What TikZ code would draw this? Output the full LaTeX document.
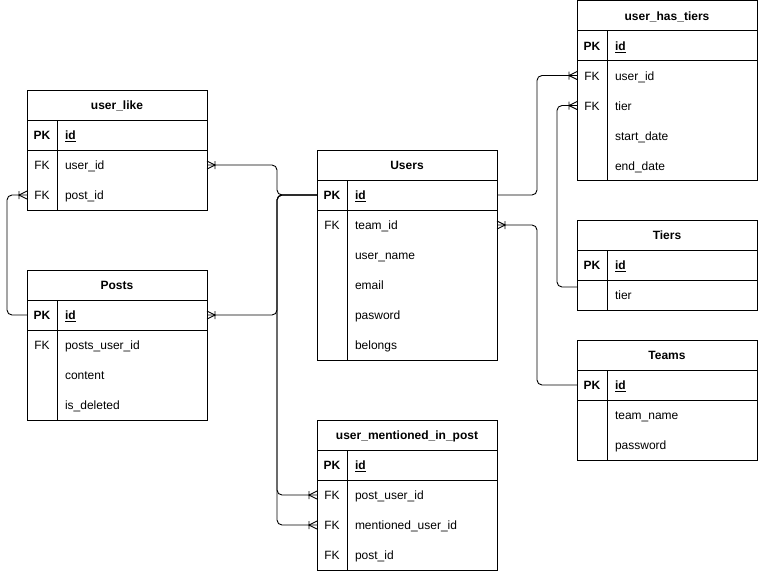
\documentclass[tikz,border=0pt]{standalone}
\usepackage{fontspec}
\setmainfont{Liberation Sans}
\usetikzlibrary{positioning}
\usetikzlibrary{decorations.markings}

\tikzset{
  tblhead/.style={minimum width=180pt,minimum height=30pt,inner sep=0pt,outer sep=0pt,text height=10pt,text depth=0.2pt,font=\fontsize{12}{14}\selectfont\bfseries},
  keycell/.style={minimum width=30pt,minimum height=30pt,inner sep=0pt,outer sep=0pt,text height=10pt,text depth=0.2pt},
  namecell/.style={minimum height=30pt,text width=134pt,inner xsep=8pt,inner ysep=0pt,outer sep=0pt,text height=10pt,text depth=0.2pt,align=left},
  rel/.style={rounded corners=5pt},
  many end/.style={postaction={decorate,decoration={markings,mark=at position 1 with {\draw[sharp corners] (0pt,4pt) -- (-8pt,0pt) -- (0pt,-4pt) (-8pt,4pt) -- (-8pt,-4pt);}}}}
}

\begin{document}
\begin{tikzpicture}[x=1pt,y=-1pt,line width=0.9pt,font=\fontsize{12}{14}\selectfont]
\useasboundingbox (0,0) rectangle (758,571);
% user_like
\node[tblhead] (like) at (117,105) {user\_like};
\node[keycell,anchor=north west] (like-pk) at (like.south west) {\textbf{PK}};
\node[namecell,right=0pt of like-pk] (like-id) {\textbf{\underline{id}}};
\node[keycell,below=0pt of like-pk] (like-fk1) {FK};
\node[namecell,right=0pt of like-fk1] (like-userid) {user\_id};
\node[keycell,below=0pt of like-fk1] (like-fk2) {FK};
\node[namecell,right=0pt of like-fk2] (like-postid) {post\_id};
\draw (like.north west) rectangle (like-postid.south east);
\draw (like.south west) -- (like.south east);
\draw (like-pk.south west) -- (like-id.south east);
\draw (like-pk.north east) -- (like-fk2.south east);
% Posts
\node[tblhead] (posts) at (117,285) {Posts};
\node[keycell,anchor=north west] (posts-pk) at (posts.south west) {\textbf{PK}};
\node[namecell,right=0pt of posts-pk] (posts-id) {\textbf{\underline{id}}};
\node[keycell,below=0pt of posts-pk] (posts-fk1) {FK};
\node[namecell,right=0pt of posts-fk1] (posts-userid) {posts\_user\_id};
\node[keycell,below=0pt of posts-fk1] (posts-k3) {};
\node[namecell,right=0pt of posts-k3] (posts-content) {content};
\node[keycell,below=0pt of posts-k3] (posts-k4) {};
\node[namecell,right=0pt of posts-k4] (posts-deleted) {is\_deleted};
\draw (posts.north west) rectangle (posts-deleted.south east);
\draw (posts.south west) -- (posts.south east);
\draw (posts-pk.south west) -- (posts-id.south east);
\draw (posts-pk.north east) -- (posts-k4.south east);
% Users
\node[tblhead] (users) at (407,165) {Users};
\node[keycell,anchor=north west] (users-pk) at (users.south west) {\textbf{PK}};
\node[namecell,right=0pt of users-pk] (users-id) {\textbf{\underline{id}}};
\node[keycell,below=0pt of users-pk] (users-fk1) {FK};
\node[namecell,right=0pt of users-fk1] (users-teamid) {team\_id};
\node[keycell,below=0pt of users-fk1] (users-k3) {};
\node[namecell,right=0pt of users-k3] (users-name) {user\_name};
\node[keycell,below=0pt of users-k3] (users-k4) {};
\node[namecell,right=0pt of users-k4] (users-email) {email};
\node[keycell,below=0pt of users-k4] (users-k5) {};
\node[namecell,right=0pt of users-k5] (users-pasword) {pasword};
\node[keycell,below=0pt of users-k5] (users-k6) {};
\node[namecell,right=0pt of users-k6] (users-belongs) {belongs};
\draw (users.north west) rectangle (users-belongs.south east);
\draw (users.south west) -- (users.south east);
\draw (users-pk.south west) -- (users-id.south east);
\draw (users-pk.north east) -- (users-k6.south east);
% user_mentioned_in_post
\node[tblhead] (ump) at (407,435) {user\_mentioned\_in\_post};
\node[keycell,anchor=north west] (ump-pk) at (ump.south west) {\textbf{PK}};
\node[namecell,right=0pt of ump-pk] (ump-id) {\textbf{\underline{id}}};
\node[keycell,below=0pt of ump-pk] (ump-fk1) {FK};
\node[namecell,right=0pt of ump-fk1] (ump-postuser) {post\_user\_id};
\node[keycell,below=0pt of ump-fk1] (ump-fk2) {FK};
\node[namecell,right=0pt of ump-fk2] (ump-mentioned) {mentioned\_user\_id};
\node[keycell,below=0pt of ump-fk2] (ump-fk3) {FK};
\node[namecell,right=0pt of ump-fk3] (ump-postid) {post\_id};
\draw (ump.north west) rectangle (ump-postid.south east);
\draw (ump.south west) -- (ump.south east);
\draw (ump-pk.south west) -- (ump-id.south east);
\draw (ump-pk.north east) -- (ump-fk3.south east);
% user_has_tiers
\node[tblhead] (uht) at (667,15.5) {user\_has\_tiers};
\node[keycell,anchor=north west] (uht-pk) at (uht.south west) {\textbf{PK}};
\node[namecell,right=0pt of uht-pk] (uht-id) {\textbf{\underline{id}}};
\node[keycell,below=0pt of uht-pk] (uht-fk1) {FK};
\node[namecell,right=0pt of uht-fk1] (uht-userid) {user\_id};
\node[keycell,below=0pt of uht-fk1] (uht-fk2) {FK};
\node[namecell,right=0pt of uht-fk2] (uht-tier) {tier};
\node[keycell,below=0pt of uht-fk2] (uht-k4) {};
\node[namecell,right=0pt of uht-k4] (uht-start) {start\_date};
\node[keycell,below=0pt of uht-k4] (uht-k5) {};
\node[namecell,right=0pt of uht-k5] (uht-end) {end\_date};
\draw (uht.north west) rectangle (uht-end.south east);
\draw (uht.south west) -- (uht.south east);
\draw (uht-pk.south west) -- (uht-id.south east);
\draw (uht-pk.north east) -- (uht-k5.south east);
% Tiers
\node[tblhead] (tiers) at (667,235) {Tiers};
\node[keycell,anchor=north west] (tiers-pk) at (tiers.south west) {\textbf{PK}};
\node[namecell,right=0pt of tiers-pk] (tiers-id) {\textbf{\underline{id}}};
\node[keycell,below=0pt of tiers-pk] (tiers-k2) {};
\node[namecell,right=0pt of tiers-k2] (tiers-tier) {tier};
\draw (tiers.north west) rectangle (tiers-tier.south east);
\draw (tiers.south west) -- (tiers.south east);
\draw (tiers-pk.south west) -- (tiers-id.south east);
\draw (tiers-pk.north east) -- (tiers-k2.south east);
% Teams
\node[tblhead] (teams) at (667,355) {Teams};
\node[keycell,anchor=north west] (teams-pk) at (teams.south west) {\textbf{PK}};
\node[namecell,right=0pt of teams-pk] (teams-id) {\textbf{\underline{id}}};
\node[keycell,below=0pt of teams-pk] (teams-k2) {};
\node[namecell,right=0pt of teams-k2] (teams-name) {team\_name};
\node[keycell,below=0pt of teams-k2] (teams-k3) {};
\node[namecell,right=0pt of teams-k3] (teams-password) {password};
\draw (teams.north west) rectangle (teams-password.south east);
\draw (teams.south west) -- (teams.south east);
\draw (teams-pk.south west) -- (teams-id.south east);
\draw (teams-pk.north east) -- (teams-k3.south east);
% relations
\draw[rel,many end] (users-pk.west) -- ++(-40,0) |- (like-userid.east);
\draw[rel,many end] (users-pk.west) -- ++(-40,0) |- (posts-id.east);
\draw[rel,many end] (users-pk.west) -- ++(-40,0) |- (ump-fk1.west);
\draw[rel,many end] (users-pk.west) -- ++(-40,0) |- (ump-fk2.west);
\draw[rel,many end] (posts-pk.west) -- ++(-20,0) |- (like-fk2.west);
\draw[rel,many end] (users-id.east) -- ++(40,0) |- (uht-fk1.west);
\draw[rel,many end] ([yshift=8pt]tiers-k2.west) -- ++(-20,0) |- (uht-fk2.west);
\draw[rel,many end] (teams-pk.west) -- ++(-40,0) |- (users-teamid.east);
\end{tikzpicture}
\end{document}
